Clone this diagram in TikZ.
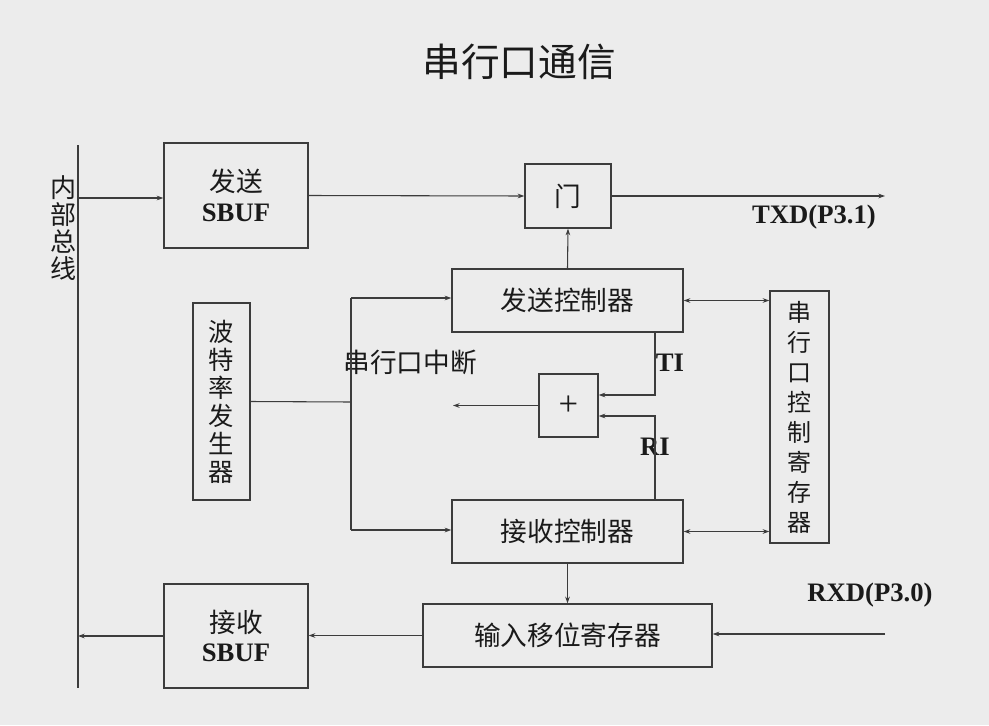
\documentclass[tikz,border=0pt]{standalone}
\usepackage{fontspec}
\setmainfont{Liberation Serif}
\newfontfamily\cjk{Noto Sans CJK SC}
\usetikzlibrary{arrows.meta}
\definecolor{bg}{HTML}{ECECEC}
\definecolor{ln}{HTML}{3C3C3C}
\definecolor{tx}{HTML}{1A1A1A}
\tikzset{
  box/.style={draw=ln, line width=1pt, inner sep=0pt, text=tx, font=\cjk\fontsize{20}{24}\selectfont, align=center},
  wire/.style={draw=ln, line width=0.8pt},
  arr/.style={wire, -{Stealth[length=5pt,width=3.5pt]}},
  darr/.style={wire, {Stealth[length=5pt,width=3.5pt]}-{Stealth[length=5pt,width=3.5pt]}},
  lat/.style={text=tx, font=\bfseries\fontsize{20}{24}\selectfont, inner sep=0pt},
  cn/.style={text=tx, font=\cjk\fontsize{20}{24}\selectfont, inner sep=0pt, align=center},
}
\begin{document}
\begin{tikzpicture}[x=0.75pt,y=-0.75pt]
\fill[bg] (0,0) rectangle (989,725);
\useasboundingbox (0,0) rectangle (989,725);

% title
\node[cn, font=\cjk\fontsize{29}{32}\selectfont] (title) at (519,62) {串行口通信};

% bus
\coordinate (busT) at (78,145);
\coordinate (busB) at (78,688);
\draw[wire] (busT) -- (busB);
\node[cn, font=\cjk\fontsize{19.5}{20.25}\selectfont] (buslbl) at (63,228) {内\\部\\总\\线};

% boxes
\node[box, minimum width=108pt, minimum height=78.75pt] (sbufT) at (236,195.5) {发送\\[-2pt]{\rmfamily\bfseries SBUF}};
\node[box, minimum width=64.5pt, minimum height=48pt] (gate) at (568,196) {门};
\node[box, minimum width=173.25pt, minimum height=47.25pt] (txc) at (567.5,300.5) {发送控制器};
\node[box, minimum width=173.25pt, minimum height=47.25pt] (rxc) at (567.5,531.5) {接收控制器};
\node[box, minimum width=44.25pt, minimum height=189pt, font=\cjk\fontsize{18}{22.5}\selectfont] (scon) at (799.5,417) {串\\行\\口\\控\\制\\寄\\存\\器};
\node[box, minimum width=42.75pt, minimum height=147.75pt, font=\cjk\fontsize{19}{21}\selectfont] (baud) at (221.5,401.5) {波\\特\\率\\发\\生\\器};
\node[box, minimum width=44.25pt, minimum height=47.25pt, font=\rmfamily\fontsize{26}{28}\selectfont] (plus) at (568.5,405.5) {+};
\node[box, minimum width=216.75pt, minimum height=47.25pt] (shift) at (567.5,635.5) {输入移位寄存器};
\node[box, minimum width=108pt, minimum height=78pt] (sbufR) at (236,636) {接收\\[-2pt]{\rmfamily\bfseries SBUF}};

% labels
\node[cn] (intlbl) at (410,362) {串行口中断};
\node[lat] (tilbl) at (670,363) {TI};
\node[lat] (rilbl) at (655,447) {RI};
\node[lat] (txdlbl) at (814,217) {TXD(P3.1)};
\node[lat] (rxdlbl) at (870,595) {RXD(P3.0)};

% connectors
\coordinate (b1) at (78,198);
\draw[arr] (b1) -- (b1 -| sbufT.west);
\draw[arr] (sbufT.east) -- (gate.west);
\coordinate (txdend) at (885,196);
\draw[arr] (gate.east) -- (txdend);
\draw[arr] (txc.north) -- (gate.south);
\draw[darr] (txc.east) -- (txc.east -| scon.west);
\draw[darr] (rxc.east) -- (rxc.east -| scon.west);

\coordinate (j) at (351,402);
\coordinate (jt) at (351,298);
\coordinate (jb) at (351,530);
\draw[wire] (baud.east) -- (j);
\draw[wire] (jt) -- (jb);
\draw[arr] (jt) -- (jt -| txc.west);
\draw[arr] (jb) -- (jb -| rxc.west);

\coordinate (ti) at (655,395);
\coordinate (ri) at (655,416);
\draw[arr] (txc.south -| ti) -- (ti) -- (ti -| plus.east);
\draw[arr] (rxc.north -| ri) -- (ri) -- (ri -| plus.east);
\coordinate (po) at (453,405);
\draw[arr] (plus.west) -- (plus.west -| po);

\draw[arr] (rxc.south) -- (shift.north);
\coordinate (rxdin) at (885,634);
\draw[arr] (rxdin) -- (rxdin -| shift.east);
\draw[arr] (shift.west) -- (shift.west -| sbufR.east);
\draw[arr] (sbufR.west) -- (sbufR.west -| busT);
\end{tikzpicture}
\end{document}
